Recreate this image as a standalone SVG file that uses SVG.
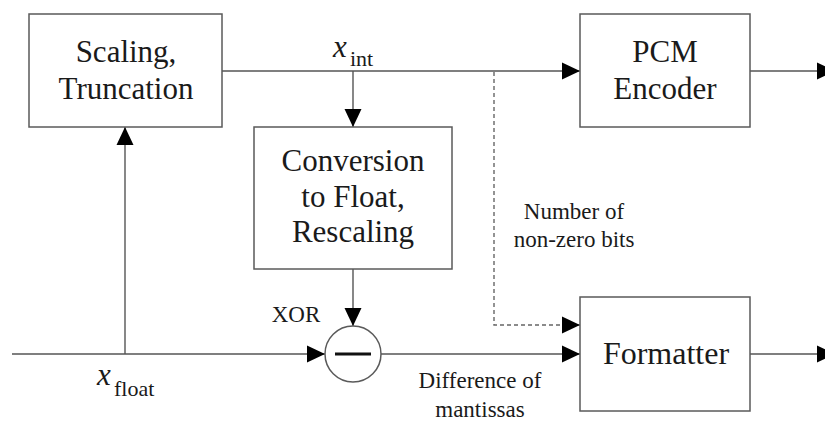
<svg xmlns="http://www.w3.org/2000/svg" width="825" height="438" viewBox="0 0 825 438">
<defs>
<style>
.box{fill:#fff;stroke:#5a5a5a;stroke-width:1.5}
.ln{fill:none;stroke:#555;stroke-width:1.4}
.dash{fill:none;stroke:#666;stroke-width:1.4;stroke-dasharray:4 3}
.t{font-family:"Liberation Serif","Times New Roman",serif;fill:#1a1a1a;text-anchor:middle}
.big{font-size:31px}
.sm{font-size:23px}
.it{font-style:italic}
</style>
<marker id="ah" viewBox="0 0 18 18" markerWidth="18" markerHeight="18" refX="18" refY="9" orient="auto" markerUnits="userSpaceOnUse">
<path d="M0,0.5 L18,9 L0,17.5 z" fill="#000"/>
</marker>
</defs>
<rect width="825" height="438" fill="#fff"/>
<g id="connectors">
<line class="ln" x1="222" y1="71" x2="580" y2="71" marker-end="url(#ah)"/>
<line class="ln" x1="353" y1="71" x2="353" y2="127" marker-end="url(#ah)"/>
<line class="ln" x1="750" y1="71" x2="835" y2="71" marker-end="url(#ah)"/>
<line class="ln" x1="12" y1="354" x2="325" y2="354" marker-end="url(#ah)"/>
<line class="ln" x1="125" y1="354" x2="125" y2="127" marker-end="url(#ah)"/>
<line class="ln" x1="353" y1="269" x2="353" y2="326" marker-end="url(#ah)"/>
<line class="ln" x1="381" y1="354" x2="580" y2="354" marker-end="url(#ah)"/>
<line class="ln" x1="750" y1="354" x2="835" y2="354" marker-end="url(#ah)"/>
<polyline class="dash" points="494,72 494,325 580,325" marker-end="url(#ah)"/>
</g>
<g id="scaling">
<rect class="box" x="29" y="14" width="193" height="113"/>
<text class="t big" x="126" y="62">Scaling,</text>
<text class="t big" x="126" y="99">Truncation</text>
</g>
<g id="pcm">
<rect class="box" x="580" y="14" width="170" height="113"/>
<text class="t big" x="665" y="62">PCM</text>
<text class="t big" x="665" y="99">Encoder</text>
</g>
<g id="conversion">
<rect class="box" x="254" y="127" width="198" height="142"/>
<text class="t big" x="353" y="171">Conversion</text>
<text class="t big" x="353" y="207">to Float,</text>
<text class="t big" x="353" y="242">Rescaling</text>
</g>
<g id="xor">
<circle cx="353" cy="354" r="28" fill="#fff" stroke="#5a5a5a" stroke-width="1.5"/>
<line x1="335" y1="354" x2="371" y2="354" stroke="#111" stroke-width="3"/>
<text class="t sm" x="296" y="322">XOR</text>
</g>
<g id="formatter">
<rect class="box" x="580" y="297" width="170" height="114"/>
<text class="t big" x="666" y="364" style="font-size:32px">Formatter</text>
</g>
<g id="labels">
<text class="t" x="333" y="57" style="text-anchor:start;font-size:31px;font-style:italic">x</text>
<text class="t" x="350" y="66" style="text-anchor:start;font-size:22px">int</text>
<text class="t" x="97" y="385" style="text-anchor:start;font-size:31px;font-style:italic">x</text>
<text class="t" x="114" y="396" style="text-anchor:start;font-size:22px">float</text>
<text class="t sm" x="574" y="219">Number of</text>
<text class="t sm" x="574" y="247">non-zero bits</text>
<text class="t sm" x="480" y="388">Difference of</text>
<text class="t sm" x="480" y="417">mantissas</text>
</g>
</svg>
